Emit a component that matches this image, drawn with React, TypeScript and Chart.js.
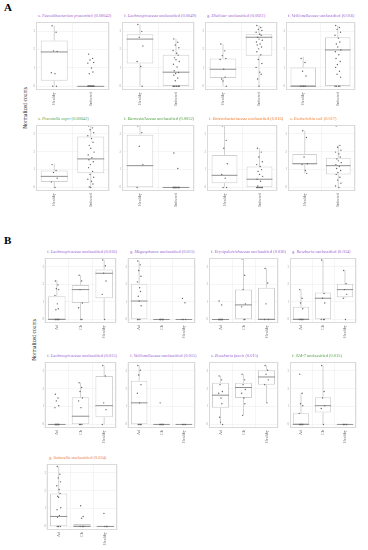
import React, { useEffect, useRef } from 'react';
import { Chart, registerables } from 'chart.js';
Chart.register(...registerables);

// ---------- categories ----------
const A_GROUPS = ['Healthy', 'Infected'];
const B_GROUPS = ['Ad', 'Ch', 'Healthy'];

// ---------- titles: [rank, taxon, suffix, p-value] ----------
const A1_TITLE = ['s.', 'Faecalibacterium prausnitzii', '', '(0.00042)'];
const A2_TITLE = ['f.', 'Lachnospiraceae', 'unclassified', '(0.0049)'];
const A3_TITLE = ['g.', 'Dialister', 'unclassified', '(0.0021)'];
const A4_TITLE = ['f.', 'Veillonellaceae', 'unclassified', '(0.016)'];
const A5_TITLE = ['s.', 'Prevotella copri', '', '(0.00042)'];
const A6_TITLE = ['f.', 'Barnesiellaceae', 'unclassified', '(0.0052)'];
const A7_TITLE = ['f.', 'Enterobacteriaceae', 'unclassified', '(0.016)'];
const A8_TITLE = ['s.', 'Escherichia coli', '', '(0.017)'];
const B1_TITLE = ['f.', 'Lachnospiraceae', 'unclassified', '(0.016)'];
const B2_TITLE = ['g.', 'Megasphaera', 'unclassified', '(0.015)'];
const B3_TITLE = ['f.', 'Erysipelotrichaceae', 'unclassified', '(0.036)'];
const B4_TITLE = ['g.', 'Roseburia', 'unclassified', '(0.034)'];
const B5_TITLE = ['f.', 'Lachnospiraceae', 'unclassified', '(0.015)'];
const B6_TITLE = ['f.', 'Veillonellaceae', 'unclassified', '(0.015)'];
const B7_TITLE = ['s.', 'Roseburia faecis', '', '(0.015)'];
const B8_TITLE = ['f.', 'S24-7', 'unclassified', '(0.015)'];
const B9_TITLE = ['g.', 'Sutterella', 'unclassified', '(0.024)'];

// ---------- box stats per group: [min, q1, median, q3, max] ----------
const A1_BOX = [[0, 0.3, 1.87, 2.49, 3.3], [0, 0, 0, 0, 0]];
const A2_BOX = [[0, 1.24, 2.57, 2.83, 3.36], [0, 0, 0.77, 1.72, 2.58]];
const A3_BOX = [[0, 0.45, 0.93, 1.51, 2.3], [0, 1.67, 2.67, 2.83, 3.31]];
const A4_BOX = [[0, 0, 0, 1.03, 1.61], [0, 0, 1.98, 2.67, 3.31]];
const A5_BOX = [[0, 0.3, 0.62, 0.95, 1.33], [0, 0.79, 1.6, 2.85, 3.45]];
const A6_BOX = [[0, 0, 1.22, 2.96, 3.45], [0, 0, 0, 0, 0]];
const A7_BOX = [[0, 0.24, 0.68, 1.82, 3.45], [0, 0, 0.46, 1.17, 2.2]];
const A8_BOX = [[0.79, 1.28, 1.33, 1.88, 3.18], [0, 0.73, 1.22, 1.66, 2.36]];
const B1_BOX = [[0, 0, 0, 1.32, 2.24], [0, 0.94, 1.7, 1.97, 2.52], [0, 1.21, 2.63, 2.84, 3.39]];
const B2_BOX = [[0, 0, 1.05, 2.03, 3.33], [0, 0, 0, 0, 0], [0, 0, 0, 0, 0]];
const B3_BOX = [[0, 0, 0, 0, 0], [0, 0, 0.83, 1.7, 3.45], [0, 0, 0, 1.81, 2.9]];
const B4_BOX = [[0, 0, 0, 0.72, 1.7], [0, 0, 1.21, 1.54, 3.39], [1.21, 1.27, 1.7, 2.03, 2.79]];
const B5_BOX = [[0, 0, 0, 0, 0], [0, 0, 0.46, 1.53, 2.34], [0, 0.4, 1.05, 2.72, 3.3]];
const B6_BOX = [[0, 0, 1.21, 2.45, 3.3], [0, 0, 0, 0, 0], [0, 0, 0, 0, 0]];
const B7_BOX = [[0, 0.94, 1.64, 2.34, 2.72], [0.51, 1.48, 2.07, 2.34, 2.82], [1.21, 2.23, 2.66, 3.04, 3.3]];
const B8_BOX = [[0, 0, 0, 0.62, 1.75], [0, 0.67, 1.05, 1.53, 3.3], [0, 0, 0, 0, 0]];
const B9_BOX = [[0, 0, 0.56, 1.85, 3.36], [0, 0, 0, 0.13, 0.13], [0, 0, 0, 0, 0]];

// ---------- individual samples per group ----------
const A1_PTS = [
  [3.3, 2.94, 1.93, 1.9, 0.74, 0.69, 0, 0],
  [1.75, 1.52, 1.43, 1.3, 1.26, 1.0, 0.78, 0.69, 0, 0, 0, 0, 0, 0, 0, 0, 0, 0, 0, 0, 0, 0, 0, 0],
];
const A2_PTS = [
  [3.36, 2.99, 2.67, 2.2, 1.35, 1.08, 0],
  [2.58, 2.4, 2.25, 2.1, 1.95, 1.8, 1.7, 1.55, 1.45, 1.35, 1.2, 1.05, 0.85, 0.75, 0.7, 0.6, 0.45, 0.3, 0, 0, 0, 0, 0, 0, 0, 0],
];
const A3_PTS = [
  [2.3, 1.93, 1.67, 1.51, 1.46, 0.93, 0.5, 0.4, 0.29, 0],
  [3.31, 3.2, 3.1, 3.04, 2.94, 2.83, 2.78, 2.67, 2.57, 2.51, 2.41, 2.3, 2.25, 2.14, 2.04, 1.88, 1.72, 1.46, 1.24, 1.03, 0.77, 0.66, 0.4, 0],
];
const A4_PTS = [
  [1.51, 1.3, 0.82, 0.56, 0, 0, 0, 0, 0],
  [3.31, 3.2, 3.1, 2.94, 2.78, 2.62, 2.41, 2.3, 2.14, 1.98, 1.88, 1.72, 1.51, 1.35, 1.19, 1.03, 0.82, 0.66, 0.5, 0, 0, 0, 0],
];
const A5_PTS = [
  [1.28, 0.95, 0.84, 0.52, 0.3, 0],
  [3.45, 3.34, 3.23, 3.07, 2.9, 2.74, 2.53, 2.36, 2.2, 1.98, 1.82, 1.66, 1.55, 1.44, 1.28, 1.11, 0.9, 0.73, 0.57, 0.46, 0.35, 0.19, 0.03, 0],
];
const A6_PTS = [
  [3.45, 3.07, 2.31, 1.28, 0],
  [1.93, 1.06, 0, 0, 0, 0, 0, 0, 0, 0, 0, 0, 0, 0, 0, 0],
];
const A7_PTS = [
  [3.45, 2.64, 2.2, 1.33, 0.73, 0.52, 0, 0],
  [2.2, 1.98, 1.71, 1.44, 1.28, 1.17, 1.0, 0.9, 0.73, 0.62, 0.46, 0.35, 0.08, 0, 0, 0, 0, 0, 0, 0, 0],
];
const A8_PTS = [
  [3.18, 2.8, 1.71, 1.33, 1.28, 0.95, 0.79],
  [3.45, 2.36, 2.25, 2.09, 1.98, 1.88, 1.71, 1.6, 1.49, 1.39, 1.28, 1.17, 1.06, 0.95, 0.84, 0.73, 0.57, 0.41, 0.24, 0.08, 0],
];
const B1_PTS = [
  [2.19, 1.97, 1.75, 1.7, 1.37, 0.89, 0.61, 0.55, 0, 0, 0, 0, 0, 0],
  [2.52, 2.19, 1.7, 0.94, 0.67, 0, 0],
  [3.39, 3.06, 2.63, 2.19, 1.43, 0],
];
const B2_PTS = [
  [3.33, 3.11, 2.79, 2.46, 2.14, 1.81, 1.59, 1.32, 1.05, 0.78, 0, 0, 0],
  [0, 0, 0, 0, 0, 0, 0, 0],
  [1.2, 0.95, 0, 0, 0],
];
const B3_PTS = [
  [1.05, 0.83, 0, 0, 0, 0, 0, 0, 0, 0, 0, 0],
  [3.45, 2.52, 1.7, 0.89, 0.72, 0, 0],
  [2.9, 2.08, 0.89, 0, 0],
];
const B4_PTS = [
  [1.7, 1.21, 0.94, 0.61, 0, 0, 0, 0, 0, 0],
  [3.39, 1.48, 1.21, 0.94, 0, 0, 0],
  [2.79, 2.03, 1.7, 1.43, 1.21, 0],
];
const B5_PTS = [
  [1.69, 1.48, 1.32, 1.05, 0.94, 0, 0, 0, 0, 0, 0, 0, 0, 0, 0],
  [2.34, 2.07, 1.85, 1.48, 1.32, 0.94, 0, 0, 0],
  [3.3, 2.72, 1.21, 0.83, 0],
];
const B6_PTS = [
  [3.3, 3.04, 2.77, 2.23, 1.75, 1.21, 0, 0, 0, 0],
  [1.21, 0, 0, 0, 0, 0, 0, 0],
  [0, 0, 0, 0],
];
const B7_PTS = [
  [2.72, 2.5, 2.23, 1.85, 1.75, 1.48, 1.16, 0.4, 0.13, 0],
  [2.82, 2.5, 2.23, 1.96, 1.75, 1.48, 1.16, 0.51],
  [3.3, 3.04, 2.82, 2.5, 2.23, 1.21],
];
const B8_PTS = [
  [2.82, 1.75, 1.16, 1.05, 0.62, 0, 0, 0, 0, 0, 0],
  [3.3, 1.85, 1.48, 1.05, 0.89, 0],
  [0, 0, 0, 0, 0],
];
const B9_PTS = [
  [3.36, 2.93, 2.72, 2.5, 2.28, 2.07, 1.85, 1.69, 1.64, 1.05, 0.94, 0.62, 0.51, 0, 0, 0],
  [1.16, 0.56, 0.46, 0, 0, 0],
  [0.73, 0, 0, 0],
];

// ---------- style / layout ----------
const PURPLE = '#9a62d2';
const GREEN = '#4f9e3f';
const ORANGE = '#ef7b2c';
const YW = 8;
const XH = 20;
const BAR_FRAC = 0.74;
const JITTER = [-0.06, 0.05, -0.02, 0.08, -0.08, 0.02, 0.06, -0.04, 0.0, 0.09, -0.07, 0.03, -0.05, 0.07, -0.01];

const PANELS = [
  { title: A1_TITLE, color: PURPLE, groups: A_GROUPS, box: A1_BOX, pts: A1_PTS, rect: [36, 19, 112, 90] },
  { title: A2_TITLE, color: PURPLE, groups: A_GROUPS, box: A2_BOX, pts: A2_PTS, rect: [122, 19, 197, 90] },
  { title: A3_TITLE, color: PURPLE, groups: A_GROUPS, box: A3_BOX, pts: A3_PTS, rect: [205, 19, 280, 90] },
  { title: A4_TITLE, color: PURPLE, groups: A_GROUPS, box: A4_BOX, pts: A4_PTS, rect: [286, 19, 358, 90] },
  { title: A5_TITLE, color: GREEN, groups: A_GROUPS, box: A5_BOX, pts: A5_PTS, rect: [36, 122, 112, 191] },
  { title: A6_TITLE, color: GREEN, groups: A_GROUPS, box: A6_BOX, pts: A6_PTS, rect: [122, 122, 197, 191] },
  { title: A7_TITLE, color: ORANGE, groups: A_GROUPS, box: A7_BOX, pts: A7_PTS, rect: [207, 122, 280, 191] },
  { title: A8_TITLE, color: ORANGE, groups: A_GROUPS, box: A8_BOX, pts: A8_PTS, rect: [288, 122, 358, 191] },
  { title: B1_TITLE, color: PURPLE, groups: B_GROUPS, box: B1_BOX, pts: B1_PTS, rect: [45, 255, 119, 323] },
  { title: B2_TITLE, color: PURPLE, groups: B_GROUPS, box: B2_BOX, pts: B2_PTS, rect: [128, 255, 198, 323] },
  { title: B3_TITLE, color: PURPLE, groups: B_GROUPS, box: B3_BOX, pts: B3_PTS, rect: [209, 255, 281, 323] },
  { title: B4_TITLE, color: PURPLE, groups: B_GROUPS, box: B4_BOX, pts: B4_PTS, rect: [290, 255, 359, 323] },
  { title: B5_TITLE, color: PURPLE, groups: B_GROUPS, box: B5_BOX, pts: B5_PTS, rect: [45, 359, 119, 428] },
  { title: B6_TITLE, color: PURPLE, groups: B_GROUPS, box: B6_BOX, pts: B6_PTS, rect: [128, 359, 198, 428] },
  { title: B7_TITLE, color: PURPLE, groups: B_GROUPS, box: B7_BOX, pts: B7_PTS, rect: [209, 359, 281, 428] },
  { title: B8_TITLE, color: GREEN, groups: B_GROUPS, box: B8_BOX, pts: B8_PTS, rect: [290, 359, 359, 428] },
  { title: B9_TITLE, color: ORANGE, groups: B_GROUPS, box: B9_BOX, pts: B9_PTS, rect: [47, 461, 120, 530] },
];

const framePlugin = {
  id: 'frame',
  afterDraw(chart: any) {
    const { ctx, chartArea: a } = chart;
    ctx.save();
    ctx.strokeStyle = '#dadada';
    ctx.lineWidth = 1;
    ctx.strokeRect(a.left + 0.5, a.top + 0.5, a.right - a.left - 1, a.bottom - a.top - 1);
    ctx.restore();
  },
};

function makeConfig(p: any): any {
  const n = p.groups.length;
  const hw = BAR_FRAC / 2;
  const whisk: any[] = [];
  const med: any[] = [];
  const pts: any[] = [];
  const boxes: any[] = [];
  p.box.forEach((b: number[], i: number) => {
    whisk.push({ x: i, y: b[0] }, { x: i, y: b[1] }, { x: i, y: null }, { x: i, y: b[3] }, { x: i, y: b[4] }, { x: i, y: null });
    med.push({ x: i - hw, y: b[2] }, { x: i + hw, y: b[2] }, { x: i, y: null });
    boxes.push({ x: i, y: [b[1], b[3]] });
  });
  p.pts.forEach((arr: number[], i: number) =>
    arr.forEach((v, k) => pts.push({ x: i + JITTER[k % JITTER.length], y: v }))
  );
  return {
    type: 'bar',
    data: {
      datasets: [
        { type: 'scatter', data: pts, pointRadius: 0.7, pointBackgroundColor: '#666', pointBorderWidth: 0, order: 0 },
        { type: 'line', data: med, borderColor: '#8f8f8f', borderWidth: 1, pointRadius: 0, spanGaps: false, order: 1 },
        { type: 'line', data: whisk, borderColor: '#c8c8c8', borderWidth: 0.8, pointRadius: 0, spanGaps: false, order: 2 },
        {
          type: 'bar',
          data: boxes,
          backgroundColor: '#ffffff',
          borderColor: '#d0d0d0',
          borderWidth: 1,
          borderSkipped: false,
          barPercentage: BAR_FRAC,
          categoryPercentage: 1,
          order: 3,
        },
      ],
    },
    options: {
      animation: false,
      responsive: false,
      maintainAspectRatio: false,
      events: [],
      layout: { padding: { top: 1, right: 1, left: 0, bottom: 0 } },
      plugins: { legend: { display: false }, tooltip: { enabled: false }, title: { display: false } },
      scales: {
        x: {
          type: 'linear',
          min: -0.5,
          max: n - 0.5,
          offset: false,
          grid: { color: '#eeeeee', drawTicks: false, lineWidth: 0.6 },
          border: { display: false },
          afterBuildTicks: (s: any) => {
            s.ticks = p.groups.map((_: string, i: number) => ({ value: i }));
          },
          ticks: {
            font: { size: 4.2, family: 'Liberation Serif' },
            color: '#666',
            minRotation: 90,
            maxRotation: 90,
            padding: 2,
            autoSkip: false,
            callback: (v: number) => p.groups[v] ?? '',
          },
          afterFit: (s: any) => { s.height = XH; },
        },
        y: {
          min: -0.2,
          max: 3.5,
          grid: { color: '#eeeeee', drawTicks: false, lineWidth: 0.6 },
          border: { display: false },
          ticks: { stepSize: 1, includeBounds: false, font: { size: 3, family: 'Liberation Serif' }, color: '#999', padding: 1 },
          afterFit: (s: any) => { s.width = YW; },
        },
      },
    },
    plugins: [framePlugin],
  };
}

function Panel({ p }: { p: any }) {
  const ref = useRef<HTMLCanvasElement>(null);
  useEffect(() => {
    const c = new Chart(ref.current as HTMLCanvasElement, makeConfig(p));
    return () => c.destroy();
  }, []);
  const [l, t, r, b] = p.rect;
  const left = l - YW;
  const top = t - 1;
  const w = r - l + YW + 1;
  const h = b - t + XH + 1;
  const [rank, taxon, suffix, pv] = p.title;
  return (
    <>
      <div
        style={{
          position: 'absolute',
          left: l + 2,
          top: t - 6.5,
          fontFamily: '"Liberation Serif", serif',
          fontSize: '4.4px',
          lineHeight: '5px',
          color: p.color,
          whiteSpace: 'nowrap',
        }}
      >
        {rank} <i>{taxon}</i>{suffix ? ' ' + suffix : ''} {pv}
      </div>
      <canvas ref={ref} width={w} height={h} style={{ position: 'absolute', left, top, width: w, height: h }} />
    </>
  );
}

const yLabelStyle = (cx: number, cy: number): React.CSSProperties => ({
  position: 'absolute',
  left: cx - 30,
  top: cy - 3,
  width: 60,
  height: 6,
  lineHeight: '6px',
  textAlign: 'center',
  fontFamily: '"Liberation Serif", serif',
  fontSize: '5.5px',
  color: '#222',
  transform: 'rotate(-90deg)',
  whiteSpace: 'nowrap',
});

const letterStyle = (x: number, y: number): React.CSSProperties => ({
  position: 'absolute',
  left: x,
  top: y,
  fontFamily: '"Liberation Serif", serif',
  fontWeight: 'bold',
  fontSize: '11px',
  lineHeight: '11px',
  color: '#000',
});

export default function App() {
  return (
    <div style={{ position: 'absolute', left: 0, top: 0, width: 368, height: 550, background: '#fff', overflow: 'hidden' }}>
      <div style={letterStyle(4, 2)}>A</div>
      <div style={letterStyle(4, 235)}>B</div>
      <div style={yLabelStyle(25, 108)}>Normalized counts</div>
      <div style={yLabelStyle(34, 340)}>Normalized counts</div>
      {PANELS.map((p, i) => (
        <Panel key={i} p={p} />
      ))}
    </div>
  );
}
